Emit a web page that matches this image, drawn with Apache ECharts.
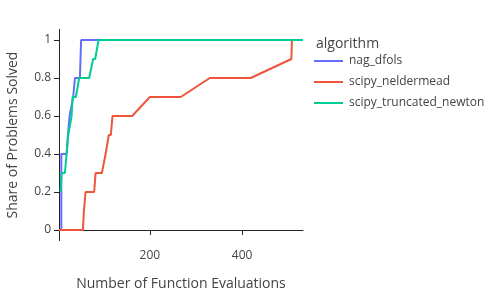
<!DOCTYPE html>
<html>
<head>
<meta charset="utf-8">
<script src="https://cdn.jsdelivr.net/npm/echarts@6/dist/echarts.min.js"></script>
<style>
  html, body { margin: 0; padding: 0; background: #fff; }
  #chart { width: 500px; height: 300px; }
</style>
</head>
<body>
<div id="chart"></div>
<script>
// performance profile data
const seriesNames = ['nag_dfols', 'scipy_neldermead', 'scipy_truncated_newton'];

const dfolsX = [3, 8, 8, 19.5, 22.3, 26, 27.3, 33.8, 37.5, 48.3, 51, 532];
const dfolsY = [0, 0, 0.4, 0.4, 0.5, 0.6, 0.6, 0.7, 0.8, 0.8, 1, 1];

const neldermeadX = [3, 54.8, 57, 60.6, 79.3, 82.3, 96, 104, 107.4, 111, 115.4, 119, 161.6, 200, 267, 330, 418.7, 506.8, 508, 532];
const neldermeadY = [0, 0, 0.1, 0.2, 0.2, 0.3, 0.3, 0.4, 0.4, 0.5, 0.5, 0.6, 0.6, 0.7, 0.7, 0.8, 0.8, 0.9, 1, 1];

const truncX = [6.5, 8.7, 15.8, 19.5, 23, 26.6, 30.3, 32.5, 39.6, 46.8, 68.4, 77, 81.4, 88.8, 532];
const truncY = [0.2, 0.3, 0.3, 0.4, 0.5, 0.5, 0.6, 0.7, 0.7, 0.8, 0.8, 0.9, 0.9, 1, 1];

const xTicks = [200, 400];
const yTicks = [0, 0.2, 0.4, 0.6, 0.8, 1];

const colors = ['#636efa', '#ef553b', '#00cc96'];
const textColor = '#444';
const lineColor = '#242424';
const font = '"Open Sans", sans-serif';

const zip = (xs, ys) => xs.map((x, i) => [x, ys[i]]);
const allData = [zip(dfolsX, dfolsY), zip(neldermeadX, neldermeadY), zip(truncX, truncY)];

const chart = echarts.init(document.getElementById('chart'));

chart.setOption({
  animation: false,
  textStyle: { fontFamily: font },
  title: {
    text: 'algorithm',
    left: 311,
    top: 32,
    textStyle: { fontSize: 14, fontWeight: 'normal', color: textColor, fontFamily: font }
  },
  legend: {
    orient: 'vertical',
    left: 314,
    top: 55,
    icon: 'rect',
    itemWidth: 29,
    itemHeight: 2,
    itemGap: 9,
    padding: 0,
    textStyle: { fontSize: 12, color: textColor, fontFamily: font, padding: [0, 0, 0, 1] },
    data: seriesNames
  },
  grid: { left: 59, right: 197, top: 29.4, bottom: 59.4 },
  xAxis: {
    type: 'value',
    min: 3,
    max: 532,
    name: 'Number of Function Evaluations',
    nameLocation: 'middle',
    nameGap: 36,
    nameTextStyle: { fontSize: 14, color: textColor, fontFamily: font },
    axisLine: { show: true, lineStyle: { color: lineColor, width: 1 } },
    axisTick: { show: true, length: 5, customValues: xTicks, lineStyle: { color: lineColor } },
    axisLabel: { customValues: xTicks, fontSize: 12, color: textColor, margin: 9 },
    splitLine: { show: false }
  },
  yAxis: {
    type: 'value',
    min: -0.056,
    max: 1.056,
    name: 'Share of Problems Solved',
    nameLocation: 'middle',
    nameGap: 39,
    nameTextStyle: { fontSize: 14, color: textColor, fontFamily: font },
    axisLine: { show: true, lineStyle: { color: lineColor, width: 1 } },
    axisTick: { show: true, length: 5, customValues: yTicks, lineStyle: { color: lineColor } },
    axisLabel: { customValues: yTicks, fontSize: 12, color: textColor, margin: 8 },
    splitLine: { show: false }
  },
  series: seriesNames.map((name, i) => ({
    name: name,
    type: 'line',
    data: allData[i],
    symbol: 'none',
    color: colors[i],
    lineStyle: { width: 2, color: colors[i] }
  }))
});
</script>
</body>
</html>
